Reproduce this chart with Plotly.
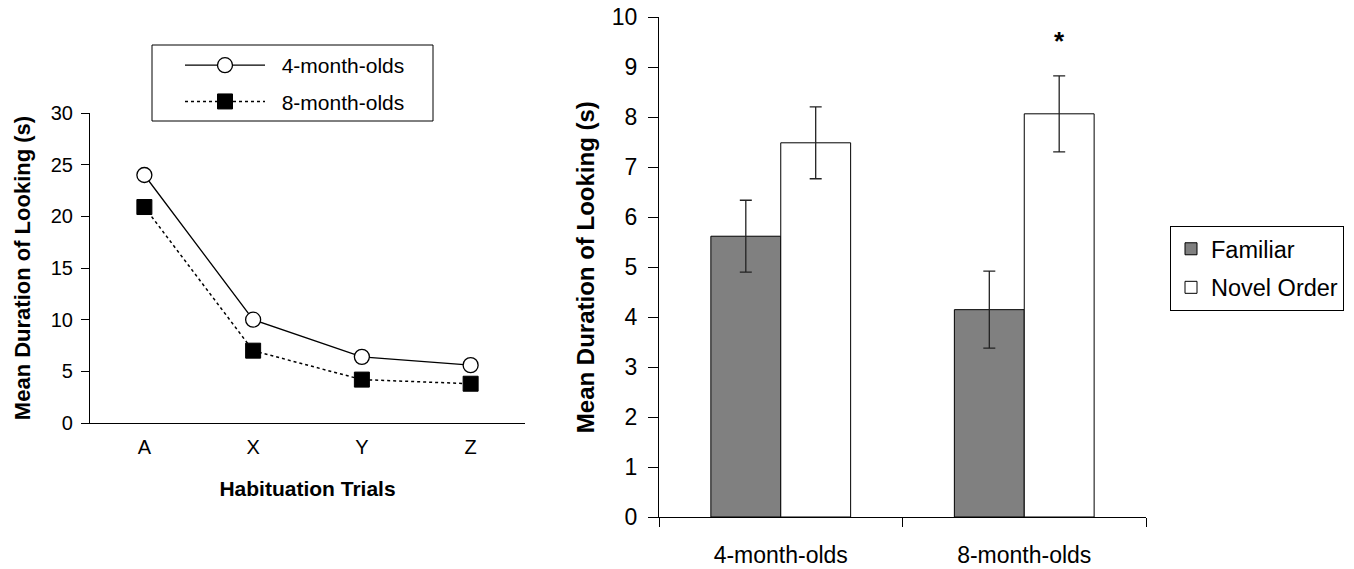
import plotly.graph_objects as go

# Left chart data
trials = ["A", "X", "Y", "Z"]
looking_4mo = [24.0, 10.0, 6.4, 5.6]
looking_8mo = [20.9, 7.0, 4.2, 3.8]

# Right chart data
groups = ["4-month-olds", "8-month-olds"]
familiar = [5.62, 4.15]
familiar_err = [0.72, 0.77]
novel = [7.49, 8.07]
novel_err = [0.72, 0.76]

FONT = "Liberation Sans, Arial, sans-serif"
W, H = 1354, 569

def px_x(p):
    return p / W

def px_y(p):
    return 1 - p / H

NB = "\u00a0\u00a0"

fig = go.Figure()

fig.add_trace(go.Scatter(
    x=trials, y=looking_4mo, name=NB + "4-month-olds", mode="lines+markers",
    line=dict(color="black", width=1.3),
    marker=dict(symbol="circle", size=15, color="white", line=dict(color="black", width=1.3)),
    xaxis="x", yaxis="y", legend="legend", legendgroup="a",
))
fig.add_trace(go.Scatter(
    x=trials, y=looking_8mo, name=NB + "8-month-olds", mode="lines+markers",
    line=dict(color="black", width=1.5, dash="dot"),
    marker=dict(symbol="square", size=15, color="black", line=dict(color="black", width=1)),
    xaxis="x", yaxis="y", legend="legend", legendgroup="b",
))

fig.add_trace(go.Bar(
    x=groups, y=familiar, name="Familiar",
    marker=dict(color="#808080", line=dict(color="black", width=1)),
    error_y=dict(type="data", array=familiar_err, color="#222222", thickness=1.3, width=6),
    xaxis="x2", yaxis="y2", legend="legend2", legendgroup="c",
))
fig.add_trace(go.Bar(
    x=groups, y=novel, name="Novel Order",
    marker=dict(color="white", line=dict(color="black", width=1)),
    error_y=dict(type="data", array=novel_err, color="#222222", thickness=1.3, width=6),
    xaxis="x2", yaxis="y2", legend="legend2", legendgroup="d",
))

axis_common = dict(showgrid=False, zeroline=False, showline=True, linecolor="black",
                   linewidth=1.2, automargin=False, ticklabeloverflow="allow")

fig.update_layout(
    width=W, height=H,
    margin=dict(l=0, r=0, t=0, b=0),
    paper_bgcolor="white", plot_bgcolor="white",
    font=dict(family=FONT, color="black", size=20),
    barmode="group", bargap=0.426, bargroupgap=0,
    xaxis=dict(domain=[px_x(90), px_x(525)], anchor="y", range=[-0.5, 3.5],
               ticks="", tickfont=dict(size=20), ticklabelstandoff=6,
               title=dict(text="<b>Habituation Trials</b>", font=dict(size=21), standoff=24),
               **axis_common),
    yaxis=dict(domain=[px_y(423), px_y(113)], anchor="x", range=[0, 30], dtick=5,
               ticks="outside", ticklen=8, tickcolor="black", tickfont=dict(size=20),
               ticklabelstandoff=4,
               title=dict(text="<b>Mean Duration of Looking (s)</b>", font=dict(size=22), standoff=13),
               **axis_common),
    xaxis2=dict(domain=[px_x(659), px_x(1146)], anchor="y2", range=[-0.5, 1.5],
                ticks="outside", tickson="boundaries", ticklen=9, tickcolor="black",
                tickfont=dict(size=23), ticklabelstandoff=17,
                **axis_common),
    yaxis2=dict(domain=[px_y(517), px_y(17.4)], anchor="x2", range=[0, 10], dtick=1,
                ticks="outside", ticklen=10, tickcolor="black", tickfont=dict(size=23),
                ticklabelstandoff=6,
                title=dict(text="<b>Mean Duration of Looking (s)</b>", font=dict(size=24), standoff=10),
                **axis_common),
    legend=dict(x=px_x(180), y=px_y(45), xanchor="left", yanchor="top",
                borderwidth=0, bgcolor="rgba(0,0,0,0)",
                font=dict(size=21), itemwidth=80, traceorder="grouped", tracegroupgap=6),
    legend2=dict(x=px_x(1170), y=px_y(226), xanchor="left", yanchor="top",
                 bordercolor="black", borderwidth=1, bgcolor="white",
                 font=dict(size=23.5), traceorder="grouped", tracegroupgap=5),
    shapes=[dict(type="rect", xref="paper", yref="paper",
                 x0=px_x(152), x1=px_x(433), y0=px_y(121), y1=px_y(45),
                 line=dict(color="black", width=1), layer="below")],
    annotations=[dict(x=1.1435, y=9.53, xref="x2", yref="y2", text="<b>*</b>",
                      showarrow=False, font=dict(size=26))],
)

fig.write_html("out.html", config={"displayModeBar": False},
               post_script="document.body.style.margin='0';document.body.style.overflow='hidden';")
